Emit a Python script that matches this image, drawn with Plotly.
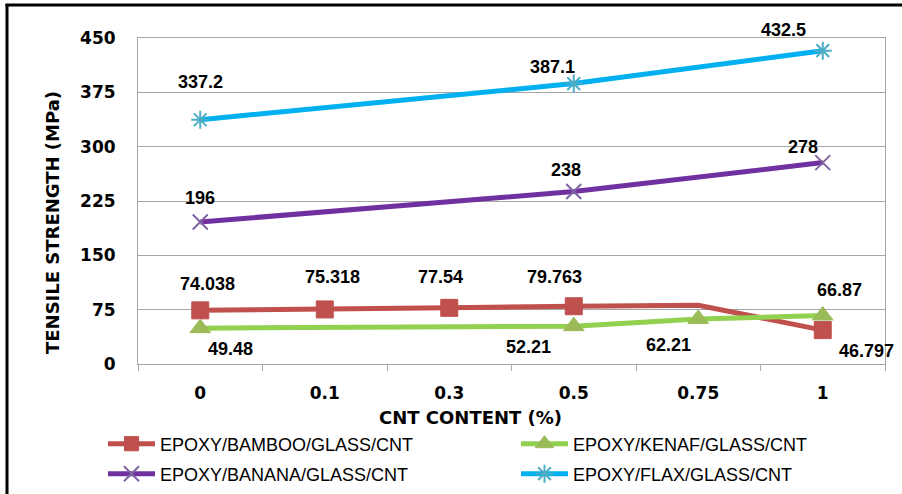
import plotly.graph_objects as go

categories = ["0", "0.1", "0.3", "0.5", "0.75", "1"]
bamboo = [74.038, 75.318, 77.54, 79.763, 81, 46.797]
kenaf = [49.48, None, None, 52.21, 62.21, 66.87]
banana = [196, None, None, 238, None, 278]
flax = [337.2, None, None, 387.1, None, 432.5]

names = ["EPOXY/BAMBOO/GLASS/CNT", "EPOXY/KENAF/GLASS/CNT",
         "EPOXY/BANANA/GLASS/CNT", "EPOXY/FLAX/GLASS/CNT"]
y_ticks = [0, 75, 150, 225, 300, 375, 450]

# label texts per series with pixel offsets (dx, dy)
bamboo_labels = [("74.038", 7, 26), ("75.318", 8, 32), ("77.54", -9, 31),
                 ("79.763", -19, 29), None, ("46.797", 44, -21)]
kenaf_labels = [("49.48", 30, -21), None, None, ("52.21", -45, -21),
                ("62.21", -30, -26), ("66.87", 17, 26)]
banana_labels = [("196", 0, 24), None, None, ("238", -8, 22), None, ("278", -20, 16)]
flax_labels = [("337.2", 0, 38), None, None, ("387.1", -21, 17), None, ("432.5", -39, 21)]

W, H = 902, 494
ML, MR, MT, MB = 138, 17, 38, 130
PW, PH = W - ML - MR, H - MT - MB


def px(x):
    return (x - ML) / PW


def py(y):
    return (H - MB - y) / PH


def cx(x):
    return x / W


def cy(y):
    return 1 - y / H


fig = go.Figure()

fig.add_trace(go.Scatter(
    x=categories, y=bamboo, name=names[0], mode="lines+markers",
    line=dict(color="#C0504D", width=5),
    marker=dict(symbol="square", size=[17, 17, 17, 17, 0, 17], color="#C0504D",
                opacity=1, line=dict(width=1, color="#C0504D")),
    legend="legend"))
fig.add_trace(go.Scatter(
    x=categories, y=kenaf, name=names[1], mode="lines+markers", connectgaps=True,
    line=dict(color="#92D050", width=5),
    marker=dict(symbol="triangle-up", size=18, color="#9BBB59", opacity=1,
                line=dict(width=1, color="#9BBB59")),
    legend="legend2"))
fig.add_trace(go.Scatter(
    x=categories, y=banana, name=names[2], mode="lines+markers", connectgaps=True,
    line=dict(color="#7030A0", width=5),
    marker=dict(symbol="x-thin-open", size=15, color="#8064A2",
                line=dict(width=2, color="#8064A2")),
    legend="legend3"))
fig.add_trace(go.Scatter(
    x=categories, y=flax, name=names[3], mode="lines+markers", connectgaps=True,
    line=dict(color="#00B0F0", width=5),
    marker=dict(symbol="asterisk-open", size=15, color="#4BACC6",
                line=dict(width=2, color="#4BACC6")),
    legend="legend4"))

annotations = []
for vals, labels in [(bamboo, bamboo_labels), (kenaf, kenaf_labels),
                     (banana, banana_labels), (flax, flax_labels)]:
    for i, (v, lab) in enumerate(zip(vals, labels)):
        if lab is None:
            continue
        t, dx, dy = lab
        annotations.append(dict(
            x=i, y=v, xref="x", yref="y", text=t, showarrow=False,
            xshift=dx, yshift=dy,
            font=dict(family="Liberation Sans, Arial", size=18, color="#000000",
                      weight="bold")))

annotations.append(dict(
    x=px(470), y=py(417), xref="paper", yref="paper", text="CNT CONTENT (%)",
    showarrow=False, xanchor="center", yanchor="middle",
    font=dict(family="DejaVu Sans", size=18, color="#000000", weight="bold")))
annotations.append(dict(
    x=px(52), y=py(223), xref="paper", yref="paper", text="TENSILE STRENGTH (MPa)",
    showarrow=False, textangle=-90, xanchor="center", yanchor="middle",
    font=dict(family="DejaVu Sans", size=18, color="#000000", weight="bold")))

legend_common = dict(
    orientation="h", xanchor="left", yanchor="middle", bgcolor="rgba(0,0,0,0)",
    xref="container", yref="container",
    itemwidth=47, font=dict(family="Liberation Sans, Arial", size=18, color="#000000"))

fig.update_layout(
    width=W, height=H,
    margin=dict(l=ML, r=MR, t=MT, b=MB, autoexpand=False),
    paper_bgcolor="white", plot_bgcolor="white",
    showlegend=True,
    legend=dict(x=cx(103), y=cy(444), **legend_common),
    legend2=dict(x=cx(516), y=cy(444), **legend_common),
    legend3=dict(x=cx(103), y=cy(474), **legend_common),
    legend4=dict(x=cx(516), y=cy(474), **legend_common),
    annotations=annotations,
    shapes=[
        dict(type="line", xref="paper", yref="paper", x0=px(7), x1=px(7),
             y0=py(4), y1=py(H + 2), line=dict(color="black", width=3)),
        dict(type="line", xref="paper", yref="paper", x0=px(5.5), x1=px(W + 2),
             y0=py(5), y1=py(5), line=dict(color="black", width=3)),
    ],
    xaxis=dict(
        type="category", categoryorder="array", categoryarray=categories,
        range=[-0.5, len(categories) - 0.5],
        showgrid=False, showline=True, mirror=True, linecolor="#A6A6A6", linewidth=1,
        ticks="outside", tickson="boundaries", ticklen=6, tickcolor="#A6A6A6",
        ticklabelstandoff=14,
        tickfont=dict(family="DejaVu Sans", size=17, color="#000000", weight="bold")),
    yaxis=dict(
        range=[0, 450], tickvals=y_ticks, ticktext=[str(v) for v in y_ticks],
        showgrid=True, gridcolor="#A6A6A6", gridwidth=1, zeroline=False,
        showline=True, mirror=True, linecolor="#A6A6A6", linewidth=1,
        ticks="", ticklabelstandoff=18,
        tickfont=dict(family="DejaVu Sans", size=17, color="#000000", weight="bold")),
)

fig.write_html("out.html")
